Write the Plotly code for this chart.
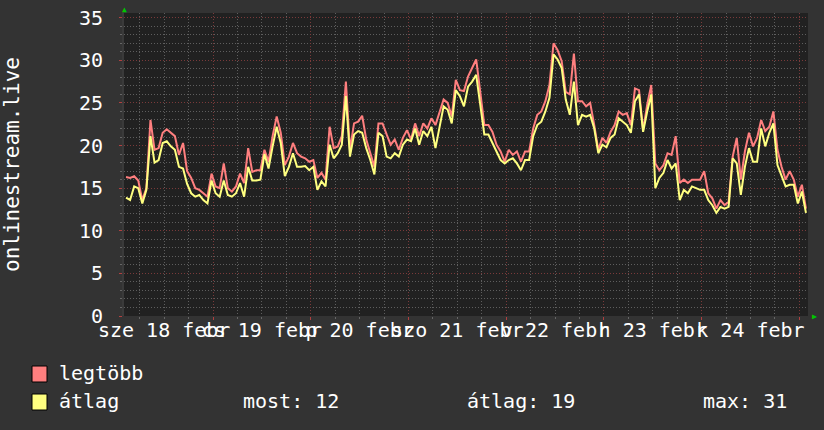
import pandas as pd
import plotly.graph_objects as go

# ---------------- data ----------------
start_time = "2015-02-18 02:08"
end_time = "2015-02-25 02:08"

legtobb = [16.3, 16.2, 16.4, 15.9, 13.6, 15.0, 23.0, 19.5, 19.7, 21.5, 21.9, 21.5, 21.1, 18.9, 20.3, 17.0,
           16.2, 15.0, 14.8, 14.4, 14.0, 16.7, 15.2, 15.0, 17.9, 15.0, 14.6, 15.2, 16.7, 15.6, 19.7, 16.9,
           17.1, 17.1, 19.5, 18.1, 21.1, 23.4, 21.5, 17.7, 18.7, 20.3, 19.1, 18.7, 18.5, 18.1, 18.3, 16.2,
           16.8, 16.0, 22.2, 19.7, 19.9, 21.1, 27.5, 19.5, 22.6, 22.8, 23.5, 20.7, 19.1, 17.5, 22.6, 22.6,
           21.3, 20.1, 20.7, 19.5, 20.9, 21.8, 20.7, 22.6, 21.1, 22.6, 22.0, 23.2, 22.4, 23.8, 25.4, 25.0,
           23.4, 27.7, 26.5, 26.4, 28.1, 29.1, 30.1, 26.3, 22.4, 22.4, 21.6, 20.1, 19.3, 18.1, 19.5, 18.9,
           19.3, 18.1, 19.3, 19.3, 22.0, 23.6, 24.0, 25.2, 27.1, 32.0, 31.2, 29.9, 26.3, 26.0, 30.8, 25.2,
           25.2, 24.6, 25.0, 22.4, 19.5, 20.9, 20.3, 21.6, 22.4, 24.0, 23.6, 23.8, 22.4, 26.7, 26.5, 21.8,
           24.8, 27.1, 17.9, 17.1, 17.7, 19.1, 18.9, 21.1, 15.6, 16.0, 15.6, 16.0, 16.0, 16.0, 17.0, 14.4,
           13.8, 12.6, 13.6, 13.0, 13.4, 18.7, 20.9, 16.0, 19.3, 21.5, 19.9, 20.9, 23.0, 21.7, 22.2, 24.0,
           19.5, 17.5, 16.0, 17.0, 16.0, 14.0, 15.4, 12.6]

atlag = [13.9, 13.6, 15.2, 15.0, 13.2, 14.8, 21.1, 18.0, 18.3, 20.3, 20.5, 19.9, 19.5, 17.5, 17.3, 15.5,
         14.4, 14.0, 14.2, 13.6, 13.2, 15.9, 14.4, 14.0, 15.9, 14.2, 14.0, 14.4, 15.6, 14.0, 17.5, 15.9,
         15.9, 16.0, 19.0, 17.3, 19.9, 22.2, 20.3, 16.4, 17.5, 19.1, 17.5, 17.5, 17.6, 17.1, 17.5, 14.8,
         15.8, 15.2, 20.1, 18.5, 19.1, 20.1, 25.8, 18.7, 21.3, 21.7, 21.5, 19.7, 18.3, 16.6, 21.5, 21.1,
         18.7, 18.5, 19.1, 18.7, 20.1, 20.7, 20.5, 22.0, 20.1, 21.7, 21.1, 22.2, 19.7, 22.4, 24.6, 24.2,
         22.6, 26.5, 25.8, 24.6, 26.9, 27.5, 28.3, 24.8, 21.3, 21.3, 20.3, 19.5, 18.3, 17.9, 18.3, 18.5,
         17.9, 17.1, 18.3, 18.3, 21.1, 22.4, 22.8, 24.0, 25.6, 30.7, 30.1, 29.1, 25.4, 23.6, 27.5, 22.4,
         23.6, 23.4, 23.6, 22.0, 19.1, 20.1, 19.8, 20.9, 21.3, 23.2, 22.8, 22.4, 21.5, 25.2, 26.0, 21.6,
         24.0, 26.0, 15.0, 16.2, 16.8, 18.3, 17.3, 17.9, 13.6, 14.8, 14.4, 15.2, 15.0, 14.8, 14.8, 13.6,
         13.0, 12.1, 12.8, 12.6, 12.8, 18.5, 17.9, 14.2, 17.5, 19.7, 18.1, 18.1, 22.0, 19.9, 21.5, 22.6,
         17.7, 16.4, 15.2, 15.4, 15.4, 13.2, 14.6, 12.1]

label_days = ["2015-02-18 12:00", "2015-02-19 12:00", "2015-02-20 12:00", "2015-02-21 12:00",
              "2015-02-22 12:00", "2015-02-23 12:00", "2015-02-24 12:00"]
label_text = ["sze 18 febr", "cs 19 febr", "p 20 febr", "szo 21 febr",
              "v 22 febr", "h 23 febr", "k 24 febr"]

y_ticks = [0, 5, 10, 15, 20, 25, 30, 35]
y_axis_title = "onlinestream.live"
legend_names = ["legtöbb", "átlag"]
stats_text = ["most: 12", "átlag: 19", "max: 31"]

times = pd.date_range(start_time, periods=len(legtobb), freq="h") + pd.Timedelta(minutes=30)

# ---------------- styles ----------------
W, H = 824, 430
L, R, T, B = 124, 16, 13, 114
PW, PH = W - L - R, H - T - B
BOTTOM = H - B
FONT = "DejaVu Sans Mono"
RED = "#ff7f7f"
YELLOW = "#ffff80"
MAJOR_GRID = "#7a3a3a"
MINOR_GRID = "#5e5e5e"
DOTS = "1px,2px"


def px_x(p):
    return (p - L) / PW


def px_y(p):
    return (BOTTOM - p) / PH


fig = go.Figure()
fig.add_trace(go.Scatter(x=times, y=legtobb, mode="lines", line=dict(color=RED, width=2),
                         name=legend_names[0], showlegend=False))
fig.add_trace(go.Scatter(x=times, y=atlag, mode="lines", line=dict(color=YELLOW, width=2),
                         name=legend_names[1], showlegend=False))
fig.add_trace(go.Scatter(x=label_days, y=[None] * len(label_days), xaxis="x2", yaxis="y",
                         mode="markers", showlegend=False, hoverinfo="skip"))

fig.update_layout(
    width=W, height=H,
    margin=dict(l=L, r=R, t=T, b=B, pad=0, autoexpand=False),
    paper_bgcolor="#333333",
    plot_bgcolor="#212121",
    font=dict(family=FONT, size=20, color="#ffffff"),
    xaxis=dict(
        type="date", range=[start_time, end_time], automargin=False,
        tick0="2015-02-18", dtick=86400000,
        showticklabels=False, ticks="outside", ticklen=3, tickcolor="#b04040",
        showgrid=True, gridcolor=MAJOR_GRID, griddash=DOTS, gridwidth=1,
        minor=dict(dtick=21600000, showgrid=True, gridcolor=MINOR_GRID, griddash=DOTS,
                   ticks="outside", ticklen=2, tickcolor="#666666"),
        zeroline=False, showline=False,
    ),
    xaxis2=dict(
        type="date", overlaying="x", anchor="y", side="bottom", automargin=False,
        range=[start_time, end_time],
        tickmode="array", tickvals=label_days, ticktext=label_text, tickangle=0,
        showgrid=False, ticks="", zeroline=False, showline=False,
        tickfont=dict(family=FONT, size=20, color="#ffffff"),
        ticklabelstandoff=0,
    ),
    yaxis=dict(
        range=[0, 35.55], tickmode="array", tickvals=y_ticks, automargin=False,
        showgrid=True, gridcolor=MAJOR_GRID, griddash=DOTS, gridwidth=1,
        minor=dict(dtick=1, showgrid=True, gridcolor=MINOR_GRID, griddash=DOTS,
                   ticks="outside", ticklen=2, tickcolor="#666666"),
        ticks="outside", ticklen=3, tickcolor="#b04040",
        zeroline=False, showline=True, linecolor="#3a3a3a", linewidth=2,
        tickfont=dict(family=FONT, size=20, color="#ffffff"),
        ticklabelstandoff=12,
    ),
)

ann = [
    dict(text=y_axis_title, textangle=-90, x=px_x(12), y=px_y(165), xref="paper", yref="paper",
         xanchor="center", yanchor="middle", showarrow=False, font=dict(family=FONT, size=21)),
    dict(text=legend_names[0], x=px_x(57), y=px_y(373), xref="paper", yref="paper",
         xanchor="left", yanchor="middle", showarrow=False),
    dict(text=legend_names[1], x=px_x(57), y=px_y(401), xref="paper", yref="paper",
         xanchor="left", yanchor="middle", showarrow=False),
    dict(text=stats_text[0], x=px_x(241), y=px_y(401), xref="paper", yref="paper",
         xanchor="left", yanchor="middle", showarrow=False),
    dict(text=stats_text[1], x=px_x(465), y=px_y(401), xref="paper", yref="paper",
         xanchor="left", yanchor="middle", showarrow=False),
    dict(text=stats_text[2], x=px_x(701), y=px_y(401), xref="paper", yref="paper",
         xanchor="left", yanchor="middle", showarrow=False),
    dict(text="▲", x=px_x(124), y=px_y(10), xref="paper", yref="paper",
         xanchor="center", yanchor="middle", showarrow=False, font=dict(size=8, color="#00c800")),
    dict(text="▶", x=px_x(814), y=px_y(316), xref="paper", yref="paper",
         xanchor="center", yanchor="middle", showarrow=False, font=dict(size=8, color="#00c800")),
]
fig.update_layout(annotations=ann)

shapes = []
for color, (top, bot) in zip([RED, YELLOW], [(366, 382), (394, 410)]):
    shapes.append(dict(type="rect", xref="paper", yref="paper",
                       x0=px_x(32), x1=px_x(47), y0=px_y(bot), y1=px_y(top),
                       fillcolor=color, line=dict(color="#000000", width=1)))
fig.update_layout(shapes=shapes)

fig.write_html("out.html", config={"displayModeBar": False},
               post_script="document.body.style.margin='0';document.body.style.background='#333333';")
